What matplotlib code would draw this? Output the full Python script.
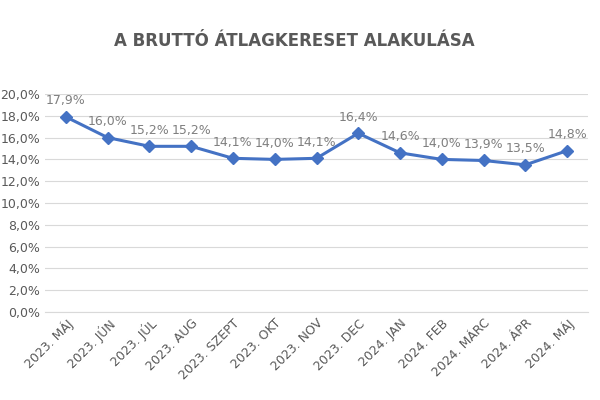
import matplotlib.pyplot as plt
from matplotlib.ticker import FuncFormatter

months = ['2023. MÁJ', '2023. JÚN', '2023. JÚL', '2023. AUG', '2023. SZEPT', '2023. OKT',
          '2023. NOV', '2023. DEC', '2024. JAN', '2024. FEB', '2024. MÁRC', '2024. ÁPR', '2024. MÁJ']
values = [17.9, 16.0, 15.2, 15.2, 14.1, 14.0, 14.1, 16.4, 14.6, 14.0, 13.9, 13.5, 14.8]

fig = plt.figure(figsize=(6, 4), dpi=100)
ax = fig.add_axes([0.075, 0.22, 0.905, 0.545])
x = range(len(values))
ax.plot(x, values, color='#4472C4', lw=2.2, marker='D', ms=6)
for i, v in zip(x, values):
    ax.annotate(f'{v:.1f}%'.replace('.', ','), (i, v), xytext=(0, 7), textcoords='offset points',
                ha='center', va='bottom', fontsize=9, color='#7f7f7f')

ax.set_ylim(0, 20)
ax.set_yticks(range(0, 21, 2))
ax.yaxis.set_major_formatter(FuncFormatter(lambda v, p: f'{v:.1f}%'.replace('.', ',')))
ax.set_xlim(-0.5, len(values) - 0.5)
ax.set_xticks(list(x))
ax.set_xticklabels(months, rotation=45, ha='right', rotation_mode='anchor')
ax.tick_params(length=0, labelsize=9, colors='#595959')
ax.grid(axis='y', color='#d9d9d9', lw=0.8)
ax.set_axisbelow(True)
for s in ['top', 'right', 'left']:
    ax.spines[s].set_visible(False)
ax.spines['bottom'].set_color('#d9d9d9')

fig.text(0.49, 0.885, 'A BRUTTÓ ÁTLAGKERESET ALAKULÁSA',
         ha='center', fontsize=12, fontweight='bold', color='#595959')
fig.savefig('out.png')
